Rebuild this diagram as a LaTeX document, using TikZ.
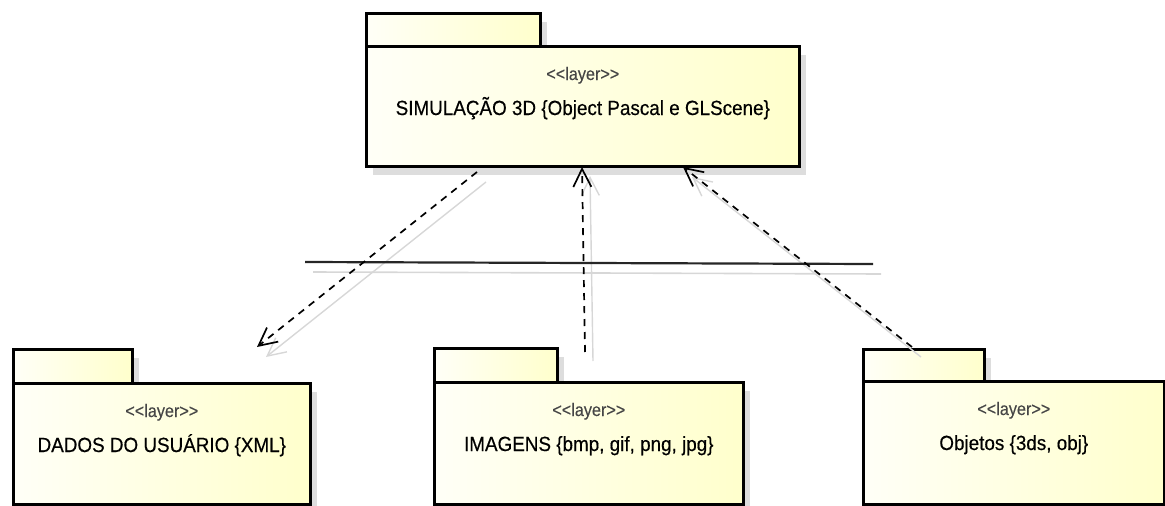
\documentclass[tikz,border=0pt]{standalone}
\usepackage{fontspec}
\setmainfont{Liberation Sans}[FakeBold=0.35]
\newfontfamily\pkgnamefont{Liberation Sans}[FakeBold=0.4, FakeStretch=0.92]
\newfontfamily\pkgstereofont{Liberation Sans}[FakeBold=0.2, FakeStretch=0.9]
\usetikzlibrary{arrows.meta,shadows,calc}
\definecolor{pkgL}{RGB}{255,255,247}
\definecolor{pkgR}{RGB}{255,255,204}
\definecolor{shd}{RGB}{221,221,221}
\definecolor{lshd}{RGB}{215,215,215}
\definecolor{stereo}{RGB}{70,70,70}
\newcommand\stlayer{<\kern0pt<layer>\kern0pt>}
\begin{document}
\begin{tikzpicture}[x=1pt,y=-1pt,
  pkgshape/.style={draw=black, line width=2.6pt, left color=pkgL, right color=pkgR,
    drop shadow={shadow xshift=7pt, shadow yshift=-9pt, fill=shd, opacity=1},
    inner sep=0pt, anchor=north west},
  stereotxt/.style={font=\pkgstereofont\fontsize{18}{18}\selectfont, text=stereo, anchor=base, inner sep=0pt},
  nametxt/.style={font=\pkgnamefont\fontsize{20.5}{20.5}\selectfont, text=black, anchor=base, inner sep=0pt},
  dep/.style={line width=1.7pt, black, dash pattern=on 7pt off 6pt,
    -{Straight Barb[length=18pt,width=18pt]}},
  depshadow/.style={line width=1.4pt, lshd, -{Straight Barb[length=18pt,width=18pt]}},
  sepline/.style={line width=2.2pt, black!85},
  sepshadow/.style={line width=1.6pt, lshd}
]
\useasboundingbox (0,0) rectangle (1165,506);

% top package
\node[pkgshape, minimum width=174pt, minimum height=33pt] (topT) at (365,12) {};
\node[pkgshape, minimum width=433pt, minimum height=120pt] (topB) at (365,45) {};
\node[stereotxt] (topS) at ($(topB.north)+(0,35)$) {\stlayer};
\node[nametxt] (topN) at ($(topB.north)+(0,70)$) {SIMULAÇÃO 3D \{Object Pascal e GLScene\}};

% left package
\node[pkgshape, minimum width=119pt, minimum height=34pt] (dadT) at (12,348) {};
\node[pkgshape, minimum width=297pt, minimum height=121pt] (dadB) at (12,382) {};
\node[stereotxt] (dadS) at ($(dadB.north)+(0,35)$) {\stlayer};
\node[nametxt] (dadN) at ($(dadB.north)+(0,70)$) {DADOS DO USUÁRIO \{XML\}};

% middle package
\node[pkgshape, minimum width=123pt, minimum height=34pt] (imgT) at (433,347) {};
\node[pkgshape, minimum width=309pt, minimum height=122pt] (imgB) at (433,381) {};
\node[stereotxt] (imgS) at ($(imgB.north)+(0,35)$) {\stlayer};
\node[nametxt] (imgN) at ($(imgB.north)+(0,70)$) {IMAGENS \{bmp, gif, png, jpg\}};

% right package
\node[pkgshape, minimum width=121pt, minimum height=32pt] (objT) at (862,348) {};
\node[pkgshape, minimum width=301pt, minimum height=123pt] (objB) at (862,380) {};
\node[stereotxt] (objS) at ($(objB.north)+(0,35)$) {\stlayer};
\node[nametxt] (objN) at ($(objB.north)+(0,70)$) {Objetos \{3ds, obj\}};

% connector end points
\coordinate (a1s) at (477,172);
\coordinate (a1e) at (257,347);
\coordinate (a2s) at (585,352);
\coordinate (a2e) at (582,167);
\coordinate (a3s) at (912,347);
\coordinate (a3e) at (683,167);
\coordinate (hl) at (305,262);
\coordinate (hr) at (873,264);

% shadows of connectors
\draw[depshadow] ([shift={(9,10)}]a1s) -- ([shift={(9,10)}]a1e);
\draw[depshadow] ([shift={(8,9)}]a2s) -- ([shift={(8,9)}]a2e);
\draw[depshadow] ([shift={(9,10)}]a3s) -- ([shift={(9,10)}]a3e);
\draw[sepshadow] ([shift={(8,10)}]hl) -- ([shift={(8,10)}]hr);

% connectors
\draw[sepline] (hl) -- (hr);
\draw[dep] (a1s) -- (a1e);
\draw[dep] (a2s) -- (a2e);
\draw[dep] (a3s) -- (a3e);
\end{tikzpicture}
\end{document}
